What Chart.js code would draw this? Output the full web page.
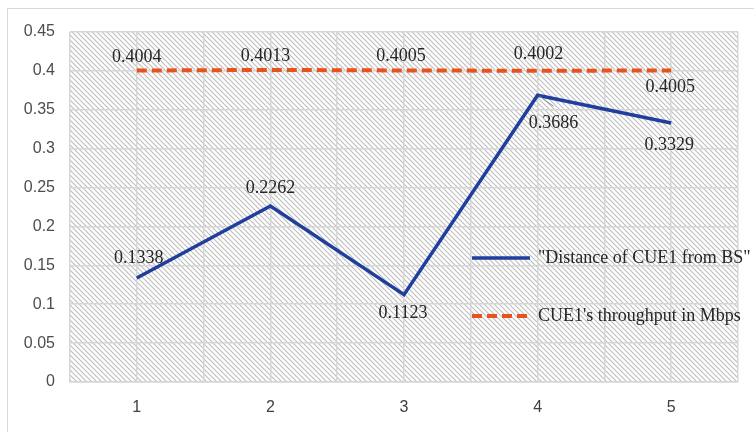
<!DOCTYPE html>
<html>
<head>
<meta charset="utf-8">
<script src="https://cdn.jsdelivr.net/npm/chart.js@4.4.1/dist/chart.umd.min.js"></script>
<style>
  html, body { margin: 0; padding: 0; background: #fff; }
  #wrap { width: 754px; height: 432px; }
</style>
</head>
<body>
<div id="wrap"><canvas id="lineChart" width="754" height="432"></canvas></div>
<script>
const categories = [1, 2, 3, 4, 5]
const distance = [0.1338, 0.2262, 0.1123, 0.3686, 0.3329]
const throughput = [0.4004, 0.4013, 0.4005, 0.4002, 0.4005]
const yTicks = [0, 0.05, 0.1, 0.15, 0.2, 0.25, 0.3, 0.35, 0.4, 0.45]

const distanceLabel = '"Distance of CUE1 from BS"'
const throughputLabel = "CUE1's throughput in Mbps"

const BLUE = '#203e9c'
const ORANGE = '#e8521d'
const SERIF = '"Liberation Serif", "Times New Roman", serif'
const SANS = '"Liberation Sans", Arial, sans-serif'

// where each value label sits relative to its point [dx, dy]
const distanceOffsets = [[2, -20], [0, -18], [-1, 19], [16, 28], [-2, 22]]
const throughputOffsets = [[0, -13], [-5, -14], [-3, -14], [1, -16], [-1, 17]]

// diagonal hatch tile for the plot background
const makeHatch = (ctx) => {
  const size = 5
  const tile = document.createElement('canvas')
  tile.width = size
  tile.height = size
  const t = tile.getContext('2d')
  t.fillStyle = '#ffffff'
  t.fillRect(0, 0, size, size)
  t.strokeStyle = '#bdbdbd'
  t.lineWidth = 1.1
  t.beginPath()
  t.moveTo(-1, -1); t.lineTo(size + 1, size + 1)
  t.moveTo(-1, size - 1); t.lineTo(1, size + 1)
  t.moveTo(size - 1, -1); t.lineTo(size + 1, 1)
  t.stroke()
  return ctx.createPattern(tile, 'repeat')
}

const backdrop = {
  id: 'backdrop',
  beforeDraw: (chart) => {
    const { ctx, chartArea: a } = chart
    ctx.save()
    ctx.strokeStyle = '#d9d9d9'
    ctx.lineWidth = 1
    ctx.strokeRect(7.5, 8.5, 800, 500)
    ctx.fillStyle = makeHatch(ctx)
    ctx.fillRect(a.left, a.top, a.right - a.left, a.bottom - a.top)
    ctx.restore()
  }
}

const valueLabels = {
  id: 'valueLabels',
  afterDatasetsDraw: (chart) => {
    const ctx = chart.ctx
    ctx.save()
    ctx.font = '18px ' + SERIF
    ctx.fillStyle = '#262626'
    ctx.textAlign = 'center'
    ctx.textBaseline = 'middle'
    chart.data.datasets.forEach((ds, di) => {
      const meta = chart.getDatasetMeta(di)
      const offs = di == 0 ? distanceOffsets : throughputOffsets
      meta.data.forEach((pt, i) => {
        const lx = pt.x + offs[i][0]
        const ly = pt.y + offs[i][1]
        // short leader line where the label sits away from its point
        if (Math.abs(offs[i][0]) > 10) {
          ctx.save()
          ctx.strokeStyle = '#8c8c8c'
          ctx.lineWidth = 1
          ctx.beginPath()
          ctx.moveTo(pt.x + 2, pt.y + 1)
          ctx.lineTo(lx, ly - 17)
          ctx.stroke()
          ctx.restore()
        }
        ctx.fillText(ds.data[i].y.toFixed(4), lx, ly)
      })
    })
    ctx.restore()
  }
}

const insideLegend = {
  id: 'insideLegend',
  afterDraw: (chart) => {
    const ctx = chart.ctx
    const rows = [[472, 258], [472, 316]]
    ctx.save()
    ctx.font = '18px ' + SERIF
    ctx.fillStyle = '#262626'
    ctx.textAlign = 'left'
    ctx.textBaseline = 'middle'
    chart.data.datasets.forEach((ds, i) => {
      const [x, y] = rows[i]
      ctx.strokeStyle = ds.borderColor
      ctx.lineWidth = ds.borderWidth
      ctx.setLineDash(ds.borderDash || [])
      ctx.beginPath()
      ctx.moveTo(x, y)
      ctx.lineTo(x + 58, y)
      ctx.stroke()
      ctx.setLineDash([])
      ctx.fillText(ds.label, x + 66, y)
    })
    ctx.restore()
  }
}

const renderChart = () => {
  const ctx = document.getElementById('lineChart').getContext('2d')
  return new Chart(ctx, {
    type: 'line',
    data: {
      datasets: [{
        label: distanceLabel,
        data: categories.map((c, i) => ({ x: c, y: distance[i] })),
        borderColor: BLUE,
        backgroundColor: BLUE,
        borderWidth: 3.5,
        pointRadius: 0,
        tension: 0
      }, {
        label: throughputLabel,
        data: categories.map((c, i) => ({ x: c, y: throughput[i] })),
        borderColor: ORANGE,
        backgroundColor: ORANGE,
        borderWidth: 4,
        borderDash: [10, 5],
        pointRadius: 0,
        tension: 0
      }]
    },
    options: {
      responsive: false,
      animation: false,
      devicePixelRatio: 1,
      layout: { padding: { left: 0, top: 32, right: 10, bottom: 0 } },
      plugins: {
        legend: { display: false },
        tooltip: { enabled: false }
      },
      scales: {
        x: {
          type: 'linear',
          min: categories[0] - 0.5,
          max: categories[categories.length - 1] + 0.5,
          afterBuildTicks: (scale) => {
            const t = []
            for (let v = scale.min; v <= scale.max + 1e-9; v += 0.5) t.push({ value: v })
            scale.ticks = t
          },
          afterFit: (scale) => { scale.height = 50 },
          grid: { color: '#d6d6d6', lineWidth: 1.5, drawTicks: false },
          border: { color: '#d6d6d6', width: 1.5 },
          ticks: {
            autoSkip: false,
            maxRotation: 0,
            padding: 16,
            color: '#404040',
            font: { family: SANS, size: 16 },
            callback: (v) => (Number.isInteger(v) && categories.includes(v)) ? String(v) : ''
          }
        },
        y: {
          min: yTicks[0],
          max: yTicks[yTicks.length - 1],
          afterBuildTicks: (scale) => { scale.ticks = yTicks.map(v => ({ value: v })) },
          afterFit: (scale) => { scale.width = 70 },
          grid: { color: '#d6d6d6', lineWidth: 1.5, drawTicks: false },
          border: { display: false },
          ticks: {
            padding: 15,
            color: '#4d4d4d',
            font: { family: SANS, size: 16 },
            callback: (v) => String(Math.round(v * 100) / 100)
          }
        }
      }
    },
    plugins: [backdrop, valueLabels, insideLegend]
  })
}

renderChart()
</script>
</body>
</html>
